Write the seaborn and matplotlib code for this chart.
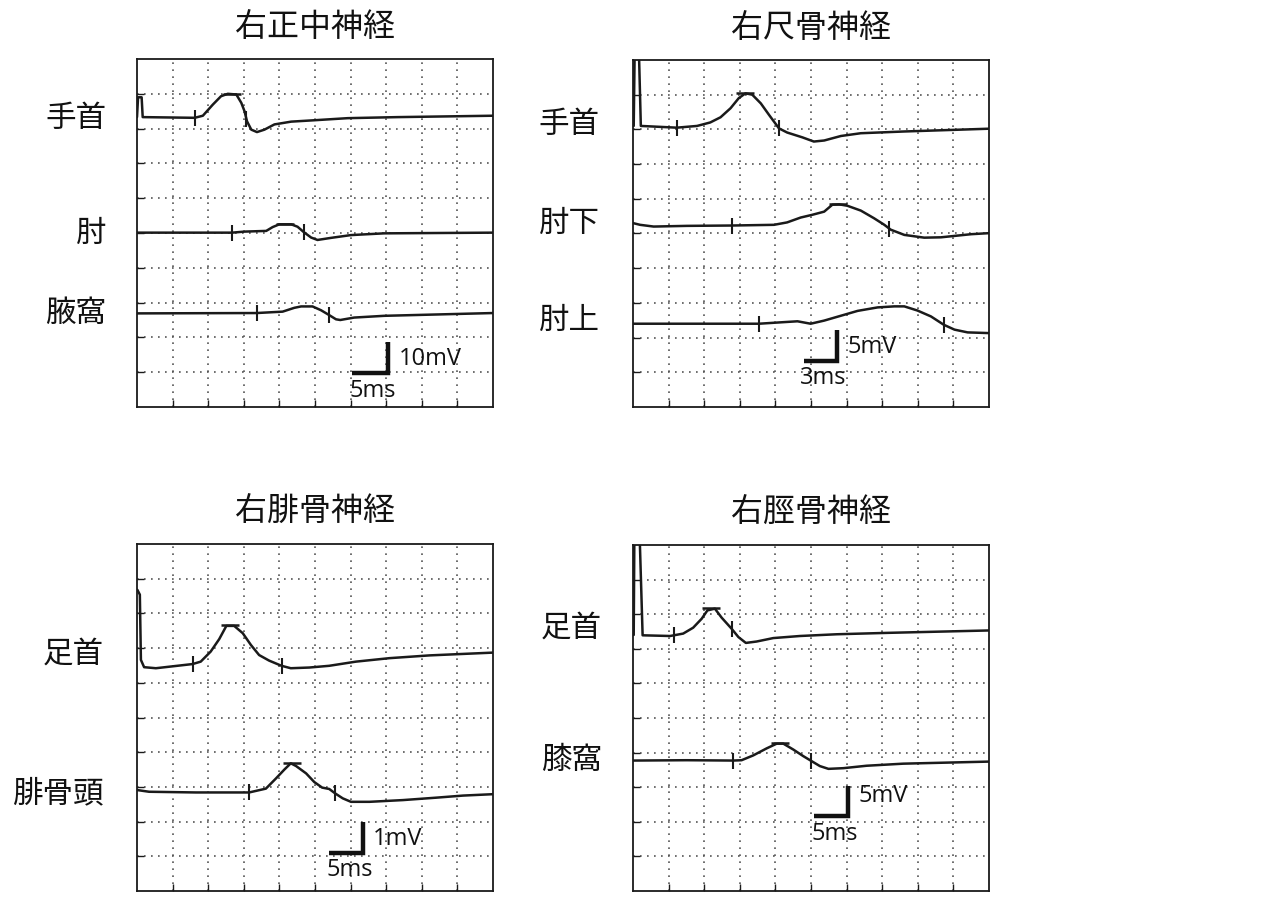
import pandas as pd
import matplotlib
matplotlib.use("Agg")
import matplotlib.pyplot as plt
import seaborn as sns

# Nerve conduction traces.
# All values are in screen divisions (10 x 10 grid, origin bottom-left).

titles = ["右正中神経", "右尺骨神経", "右腓骨神経", "右脛骨神経"]
site_labels = [["手首", "肘", "腋窩"], ["手首", "肘下", "肘上"], ["足首", "腓骨頭"], ["足首", "膝窩"]]
scale_time = ["5ms", "3ms", "5ms", "5ms"]
scale_amp = ["10mV", "5mV", "1mV", "5mV"]

# --- 右正中神経
median_wrist_x = [0.0, 0.03, 0.13, 0.16, 1.62, 1.85, 2.13, 2.36, 2.55, 2.79, 2.93, 3.02, 3.09, 3.21, 3.37, 3.58, 3.86, 4.33, 4.98, 5.92, 7.32, 10.0]
median_wrist_y = [8.33, 8.9, 8.9, 8.33, 8.31, 8.37, 8.69, 8.93, 9.0, 8.98, 8.74, 8.5, 8.21, 7.97, 7.9, 7.97, 8.12, 8.2, 8.24, 8.3, 8.33, 8.37]
median_elbow_x = [0.0, 2.67, 3.02, 3.63, 3.81, 4.0, 4.33, 4.51, 4.68, 4.89, 5.07, 5.45, 6.01, 6.94, 10.0]
median_elbow_y = [5.01, 5.01, 5.04, 5.06, 5.17, 5.25, 5.25, 5.18, 5.03, 4.87, 4.8, 4.86, 4.94, 4.99, 5.01]
median_axilla_x = [0.0, 3.36, 4.09, 4.42, 4.61, 4.93, 5.17, 5.4, 5.59, 5.71, 6.1, 6.94, 10.0]
median_axilla_y = [2.69, 2.7, 2.74, 2.85, 2.89, 2.89, 2.78, 2.64, 2.52, 2.5, 2.57, 2.62, 2.7]

# --- 右尺骨神経
ulnar_wrist_x = [0.02, 0.05, 0.16, 0.22, 1.23, 1.8, 2.17, 2.46, 2.74, 2.97, 3.16, 3.35, 3.59, 3.82, 4.1, 4.33, 4.76, 5.08, 5.37, 5.84, 6.4, 7.62, 10.0]
ulnar_wrist_y = [8.1, 10.5, 10.5, 8.1, 8.05, 8.1, 8.2, 8.35, 8.61, 8.9, 9.04, 9.0, 8.75, 8.42, 8.03, 7.91, 7.77, 7.65, 7.68, 7.81, 7.89, 7.94, 8.02]
ulnar_below_x = [0.0, 0.2, 0.58, 1.52, 2.77, 3.96, 4.33, 4.71, 5.04, 5.37, 5.6, 5.79, 6.02, 6.4, 6.77, 7.06, 7.24, 7.62, 8.18, 8.65, 9.5, 10.0]
ulnar_below_y = [5.3, 5.25, 5.2, 5.22, 5.23, 5.25, 5.32, 5.46, 5.54, 5.63, 5.83, 5.84, 5.8, 5.66, 5.44, 5.25, 5.11, 4.96, 4.88, 4.89, 4.98, 5.01]
ulnar_above_x = [0.0, 2.46, 3.54, 4.15, 4.62, 4.99, 5.37, 5.84, 6.31, 6.87, 7.34, 7.62, 7.99, 8.37, 8.73, 9.03, 9.4, 10.0]
ulnar_above_y = [2.4, 2.4, 2.4, 2.44, 2.47, 2.4, 2.49, 2.63, 2.77, 2.87, 2.9, 2.9, 2.78, 2.61, 2.37, 2.23, 2.15, 2.13]

# --- 右腓骨神経
peroneal_ankle_x = [0.01, 0.08, 0.11, 0.2, 0.53, 1.56, 1.79, 2.07, 2.31, 2.51, 2.73, 2.97, 3.2, 3.43, 3.71, 4.06, 4.32, 4.84, 5.4, 6.15, 7.09, 8.22, 10.0]
peroneal_ankle_y = [8.68, 8.54, 6.66, 6.45, 6.42, 6.54, 6.61, 6.9, 7.26, 7.64, 7.64, 7.43, 7.09, 6.8, 6.64, 6.49, 6.42, 6.44, 6.49, 6.61, 6.71, 6.79, 6.87]
peroneal_head_x = [0.0, 0.34, 1.65, 3.15, 3.62, 3.9, 4.14, 4.32, 4.47, 4.75, 4.98, 5.2, 5.4, 5.57, 5.78, 6.01, 6.53, 7.47, 8.41, 9.16, 10.0]
peroneal_head_y = [2.91, 2.86, 2.84, 2.84, 2.95, 3.24, 3.5, 3.68, 3.6, 3.39, 3.14, 2.98, 2.94, 2.81, 2.67, 2.57, 2.57, 2.62, 2.69, 2.75, 2.79]

# --- 右脛骨神経
tibial_ankle_x = [0.02, 0.04, 0.18, 0.27, 1.04, 1.15, 1.41, 1.69, 1.93, 2.09, 2.3, 2.49, 2.77, 2.96, 3.17, 3.47, 3.94, 4.69, 5.72, 7.13, 10.0]
tibial_ankle_y = [7.4, 10.5, 10.5, 7.39, 7.37, 7.39, 7.44, 7.61, 7.87, 8.11, 8.16, 7.9, 7.58, 7.34, 7.17, 7.21, 7.31, 7.37, 7.42, 7.46, 7.53]
tibial_knee_x = [0.0, 1.51, 2.82, 3.05, 3.38, 3.75, 4.04, 4.22, 4.5, 4.78, 4.99, 5.25, 5.49, 5.91, 6.56, 7.59, 10.0]
tibial_knee_y = [3.77, 3.78, 3.77, 3.78, 3.92, 4.12, 4.26, 4.26, 4.09, 3.9, 3.77, 3.61, 3.53, 3.55, 3.62, 3.68, 3.74]

# latency cursors (onset / end) and peak cursors, per trace
cursor_x = [[[1.62, 3.07], [2.67, 4.68], [3.36, 5.4]],
            [[1.23, 4.1], [2.77, 7.2], [3.54, 8.73]],
            [[1.56, 4.06], [3.15, 5.57]],
            [[1.15, 2.77], [2.82, 4.99]]]
cursor_y = [[[8.31, 8.29], [5.01, 5.03], [2.7, 2.64]],
            [[8.05, 8.03], [5.23, 5.14], [2.4, 2.37]],
            [[6.54, 6.49], [2.84, 2.81]],
            [[7.39, 7.58], [3.77, 3.77]]]
peak_x = [[2.67, 4.15, None], [3.15, 5.75, None], [2.6, 4.35], [2.2, 4.13]]
peak_y = [[9.0, 5.26, None], [9.05, 5.86, None], [7.66, 3.7], [8.17, 4.27]]

traces = [
    [(median_wrist_x, median_wrist_y), (median_elbow_x, median_elbow_y), (median_axilla_x, median_axilla_y)],
    [(ulnar_wrist_x, ulnar_wrist_y), (ulnar_below_x, ulnar_below_y), (ulnar_above_x, ulnar_above_y)],
    [(peroneal_ankle_x, peroneal_ankle_y), (peroneal_head_x, peroneal_head_y)],
    [(tibial_ankle_x, tibial_ankle_y), (tibial_knee_x, tibial_knee_y)],
]

# layout (figure pixels -> fractions) and label/scale-bar placement in divisions
W, H = 1278, 906
boxes = [(137, 59, 493, 407), (633, 60, 989, 407), (137, 544, 493, 891), (633, 545, 989, 891)]
label_dx = [-0.87, -0.93, -0.93, -0.87]
label_y = [[8.30, 5.0, 2.68], [8.15, 5.3, 2.48], [6.83, 2.79], [7.6, 3.76]]
bar_pos = [(6.04, 7.06, 0.98, 1.87), (4.79, 5.72, 1.32, 2.22), (5.4, 6.34, 1.1, 1.99), (5.09, 6.05, 2.17, 3.04)]
amp_text_pos = [(7.36, 1.38), (6.03, 1.73), (6.62, 1.51), (6.33, 2.75)]
time_text_pos = [(5.98, 0.45), (4.7, 0.84), (5.31, 0.6), (5.02, 1.65)]

INK = "#1a1a1a"
GRID = "#555555"

sns.set_theme(style="white")
plt.rcParams["font.family"] = ["Noto Sans CJK JP", "DejaVu Sans"]


def draw_panel(ax, i):
    ax.set_xlim(0, 10)
    ax.set_ylim(0, 10)
    ax.set_xticks(range(1, 10))
    ax.set_yticks(range(1, 10))
    ax.set_xticks([5], minor=True)
    ax.tick_params(which="both", direction="in", labelbottom=False, labelleft=False,
                   bottom=True, left=True, top=False, right=False, color=INK)
    ax.tick_params(which="major", length=5, width=1.0)
    ax.tick_params(axis="x", which="minor", length=12, width=1.2)
    ax.grid(True, which="major", color=GRID, linestyle=(0, (1, 3.2)), linewidth=1.2)
    for sp in ax.spines.values():
        sp.set_visible(True)
        sp.set_color(INK)
        sp.set_linewidth(1.3)

    for j, (tx, ty) in enumerate(traces[i]):
        df = pd.DataFrame({"t": tx, "v": ty})
        sns.lineplot(data=df, x="t", y="v", ax=ax, color=INK, linewidth=1.8,
                     sort=False, estimator=None)
        ax.plot(cursor_x[i][j], cursor_y[i][j], ls="none", marker="|",
                markersize=11, markeredgewidth=1.5, color=INK)
        if peak_x[i][j] is not None:
            ax.plot([peak_x[i][j]], [peak_y[i][j]], ls="none", marker="_",
                    markersize=13, markeredgewidth=1.8, color=INK)
        ax.text(label_dx[i], label_y[i][j], site_labels[i][j], ha="right", va="center",
                fontsize=22, color="#111111", clip_on=False)

    x0, x1, y0, y1 = bar_pos[i]
    ax.plot([x0, x1, x1], [y0, y0, y1], color="#111111", linewidth=3.2,
            solid_joinstyle="miter", solid_capstyle="butt")
    ax.text(*amp_text_pos[i], scale_amp[i], ha="left", va="center", fontsize=17,
            family=["Open Sans", "DejaVu Sans"], color="#111111")
    ax.text(*time_text_pos[i], scale_time[i], ha="left", va="center", fontsize=17,
            family=["Open Sans", "DejaVu Sans"], color="#111111")

    ax.text(0.5, 1.092, titles[i], transform=ax.transAxes, ha="center", va="center",
            fontsize=23, color="#111111")
    ax.set_xlabel("")
    ax.set_ylabel("")


fig = plt.figure(figsize=(W / 100, H / 100), dpi=100)
fig.patch.set_facecolor("white")
for i, (l, t, r, b) in enumerate(boxes):
    ax = fig.add_axes([l / W, (H - b) / H, (r - l) / W, (b - t) / H])
    draw_panel(ax, i)

fig.savefig("out.png", dpi=100, facecolor="white")
plt.close(fig)
